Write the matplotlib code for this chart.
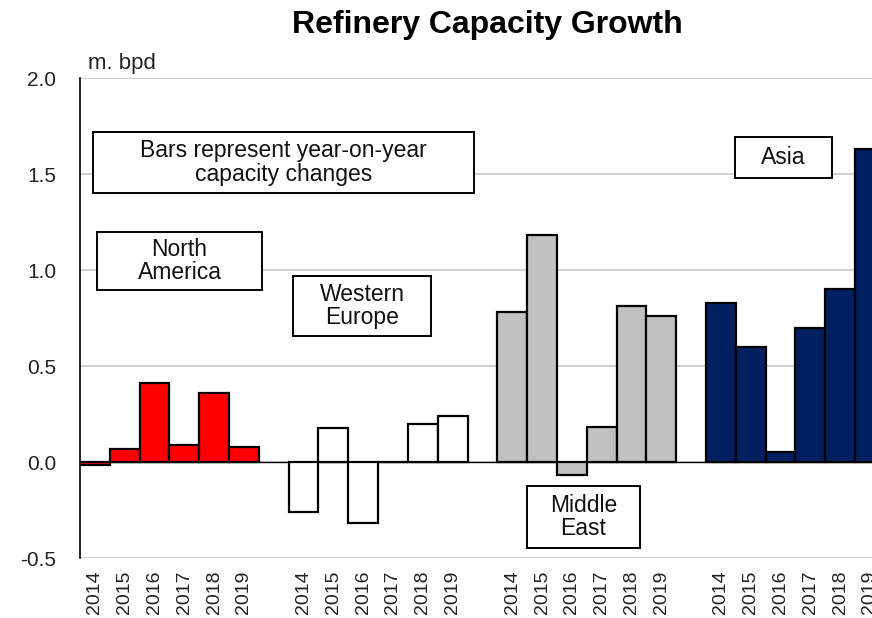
import matplotlib.pyplot as plt
from matplotlib.patches import Rectangle
import numpy as np

plt.rcParams['font.family'] = ['Liberation Sans', 'DejaVu Sans']

years = ['2014', '2015', '2016', '2017', '2018', '2019']
regions = ['North America', 'Western Europe', 'Middle East', 'Asia']
north_america = [-0.015, 0.07, 0.41, 0.09, 0.36, 0.08]
western_europe = [-0.26, 0.175, -0.32, 0.0, 0.20, 0.24]
middle_east = [0.78, 1.18, -0.07, 0.18, 0.81, 0.76]
asia = [0.83, 0.60, 0.05, 0.70, 0.90, 1.63]
colors = ['#ff0000', '#ffffff', '#c0c0c0', '#002060']

W, H = 872, 618
fig = plt.figure(figsize=(W / 100, H / 100), dpi=100)
ax = fig.add_axes([80 / W, 1 - 558 / H, 1 - 80 / W, (558 - 78) / H])

series = [north_america, western_europe, middle_east, asia]
positions = []
labels = []
for g, (vals, col) in enumerate(zip(series, colors)):
    x = g * 7 + np.arange(len(years))
    ax.bar(x, vals, width=1.0, align='edge', color=col, edgecolor='black',
           linewidth=1.6, zorder=3)
    positions.extend(x + 0.5)
    labels.extend(years)

ax.set_xlim(0, 26.57)
ax.set_ylim(-0.5, 2.0)
ax.set_yticks(np.arange(-0.5, 2.01, 0.5))
ax.set_yticklabels(['-0.5', '0.0', '0.5', '1.0', '1.5', '2.0'])
ax.set_xticks(positions)
ax.set_xticklabels(labels, rotation=90)
ax.tick_params(axis='both', length=0, colors='#222222')
ax.tick_params(axis='y', pad=17, labelsize=15)
ax.tick_params(axis='x', pad=9, labelsize=14)
ax.grid(axis='y', color='#c8c8c8', linewidth=1.2, zorder=0)
ax.axhline(0, color='black', linewidth=1.0, zorder=2)
for s in ['top', 'right', 'bottom']:
    ax.spines[s].set_visible(False)
ax.spines['left'].set_linewidth(1.2)
ax.spines['left'].set_zorder(4)


def label_box(text, x0, y0, x1, y1):
    rect = Rectangle((x0 / W, 1 - y1 / H), (x1 - x0) / W, (y1 - y0) / H,
                     transform=fig.transFigure, facecolor='white',
                     edgecolor='black', linewidth=1.4, zorder=5)
    fig.patches.append(rect)
    fig.text((x0 + x1) / 2 / W, 1 - (y0 + y1) / 2 / H, text, ha='center',
             va='center', fontsize=16.5, color='#111111', linespacing=1.05,
             zorder=6)


label_box('Bars represent year-on-year\ncapacity changes', 93, 132, 474, 193)
label_box('North\nAmerica', 97, 232, 262, 290)
label_box('Western\nEurope', 293, 276, 431, 336)
label_box('Middle\nEast', 527, 486, 640, 548)
label_box('Asia', 735, 137, 832, 178)

fig.text(487 / W, 1 - 25 / H, 'Refinery Capacity Growth', ha='center',
         va='center', fontsize=23, fontweight='bold')
fig.text(88 / W, 1 - 63 / H, 'm. bpd', ha='left', va='center', fontsize=16,
         color='#222222')

fig.savefig('out.png', dpi=100)
